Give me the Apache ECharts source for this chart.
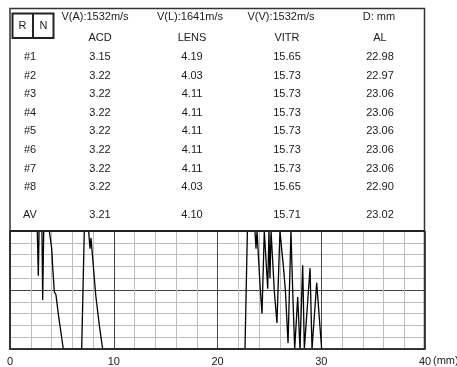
<!DOCTYPE html>
<html>
<head>
<meta charset="utf-8">
<script src="https://cdn.jsdelivr.net/npm/echarts@6/dist/echarts.min.js"></script>
<style>
  html, body { margin: 0; padding: 0; background: #fff; }
  #chart { width: 457px; height: 367px; }
</style>
</head>
<body>
<div id="chart"></div>
<script>
// table values
const velocityHeaders = ["V(A):1532m/s", "V(L):1641m/s", "V(V):1532m/s", "D: mm"];
const columnNames = ["ACD", "LENS", "VITR", "AL"];
const rowLabels = ["#1", "#2", "#3", "#4", "#5", "#6", "#7", "#8"];
const acd = ["3.15", "3.22", "3.22", "3.22", "3.22", "3.22", "3.22", "3.22"];
const lens = ["4.19", "4.03", "4.11", "4.11", "4.11", "4.11", "4.11", "4.03"];
const vitr = ["15.65", "15.73", "15.73", "15.73", "15.73", "15.73", "15.73", "15.65"];
const al = ["22.98", "22.97", "23.06", "23.06", "23.06", "23.06", "23.06", "22.90"];
const averages = ["3.21", "4.10", "15.71", "23.02"];

// echo waveform (mm, amplitude 0..10)
const echoMm = [
  0, 2.63, 2.73, 2.80, 3.08, 3.15, 3.25, 3.79, 4.02, 4.11, 4.21, 4.27, 4.43, 4.69, 5.14,
  6.91, 7.16, 7.58, 7.71, 7.81, 7.97, 8.26, 8.61, 8.93,
  22.65, 22.88, 23.61, 23.71, 23.81, 23.94, 24.10, 24.29, 24.51, 24.67, 24.84, 24.96,
  25.06, 25.16, 25.28, 25.48, 25.73, 26.02, 26.12, 26.35, 26.54, 26.80, 27.08, 27.25,
  27.44, 27.73, 27.95, 28.21, 28.37, 28.92, 29.11, 29.56, 30.04
];
const echoAmp = [
  10, 10, 6.2, 10, 10, 4.15, 10, 10, 8.5, 7.0, 7.05, 4.85, 4.6, 2.75, 0,
  0, 10, 10, 8.5, 9.4, 7.7, 4.6, 2.0, 0,
  0, 10, 10, 8.5, 10, 10, 5.4, 3.0, 10, 10, 5.1, 10,
  6.0, 10, 10, 4.85, 2.2, 10, 10, 7.0, 5.0, 0.5, 10, 4.85,
  0, 4.4, 0, 7.1, 0, 6.85, 0, 5.6, 0
];
const xTicks = [0, 10, 20, 30, 40];

const chart = echarts.init(document.getElementById("chart"), null, { renderer: "canvas" });

const font = '11px "Liberation Sans", Arial, sans-serif';
const ink = "#1a1a1a";
const colX = [100, 192, 287, 380];
const headX = [95, 190, 281, 379];
const rowY0 = 57;
const rowStep = 18.6;

function label(text, x, y) {
  return {
    type: "text",
    x: x,
    y: y,
    silent: true,
    style: {
      text: text,
      fill: ink,
      font: font,
      align: "center",
      verticalAlign: "middle",
      textAlign: "center",
      textVerticalAlign: "middle",
    },
  };
}

const texts = [];
velocityHeaders.forEach((t, i) => texts.push(label(t, headX[i], 17)));
columnNames.forEach((t, i) => texts.push(label(t, colX[i], 37.5)));
const columns = [acd, lens, vitr, al];
rowLabels.forEach((r, i) => {
  const y = rowY0 + i * rowStep;
  texts.push(label(r, 30, y));
  columns.forEach((col, c) => texts.push(label(col[i], colX[c], y)));
});
texts.push(label("AV", 30, 215));
averages.forEach((v, c) => texts.push(label(v, colX[c], 215)));

// R | N box
texts.push({
  type: "rect",
  shape: { x: 12.5, y: 13.5, width: 41, height: 24.5 },
  style: { fill: "none", stroke: "#222", lineWidth: 2 },
});
texts.push({
  type: "line",
  shape: { x1: 33, y1: 13.5, x2: 33, y2: 38 },
  style: { stroke: "#222", lineWidth: 2 },
});
texts.push(label("R", 22.5, 26));
texts.push(label("N", 43.5, 26));

// outer frame and separator
texts.push({
  type: "rect",
  shape: { x: 10, y: 8.5, width: 414.5, height: 340.5 },
  style: { fill: "none", stroke: "#333", lineWidth: 1.5 },
  z: 10,
});
texts.push({
  type: "line",
  shape: { x1: 10, y1: 231, x2: 424.5, y2: 231 },
  style: { stroke: "#222", lineWidth: 2 },
  z: 10,
});
texts.push({
  type: "text",
  x: 433,
  y: 361,
  style: {
    text: "(mm)",
    fill: ink,
    font: font,
    align: "left",
    verticalAlign: "middle",
    textAlign: "left",
    textVerticalAlign: "middle",
  },
});

chart.setOption({
  animation: false,
  backgroundColor: "#fff",
  grid: { left: 10, right: 32, top: 231, bottom: 18 },
  xAxis: {
    type: "value",
    min: 0,
    max: 40,
    interval: 10,
    axisLine: { lineStyle: { color: "#111", width: 1.5 } },
    axisTick: { show: false },
    axisLabel: {
      color: ink,
      fontFamily: '"Liberation Sans", Arial, sans-serif',
      fontSize: 11,
      margin: 7,
      formatter: (v) => (xTicks.includes(v) ? String(v) : ""),
    },
    splitLine: { show: true, lineStyle: { color: "#444", width: 1 } },
    minorTick: { show: false, splitNumber: 5 },
    minorSplitLine: { show: true, lineStyle: { color: "#bdbdbd", width: 1 } },
  },
  yAxis: {
    type: "value",
    min: 0,
    max: 10,
    interval: 5,
    axisLine: { show: true, lineStyle: { color: "#111", width: 1.5 } },
    axisTick: { show: false },
    axisLabel: { show: false },
    splitLine: { show: true, lineStyle: { color: "#444", width: 1 } },
    minorTick: { show: false, splitNumber: 5 },
    minorSplitLine: { show: true, lineStyle: { color: "#bdbdbd", width: 1 } },
  },
  graphic: { elements: texts },
  series: [
    {
      type: "line",
      showSymbol: false,
      clip: false,
      lineStyle: { color: "#000", width: 1.3 },
      data: echoMm.map((x, i) => [x, echoAmp[i]]),
    },
  ],
});
</script>
</body>
</html>
